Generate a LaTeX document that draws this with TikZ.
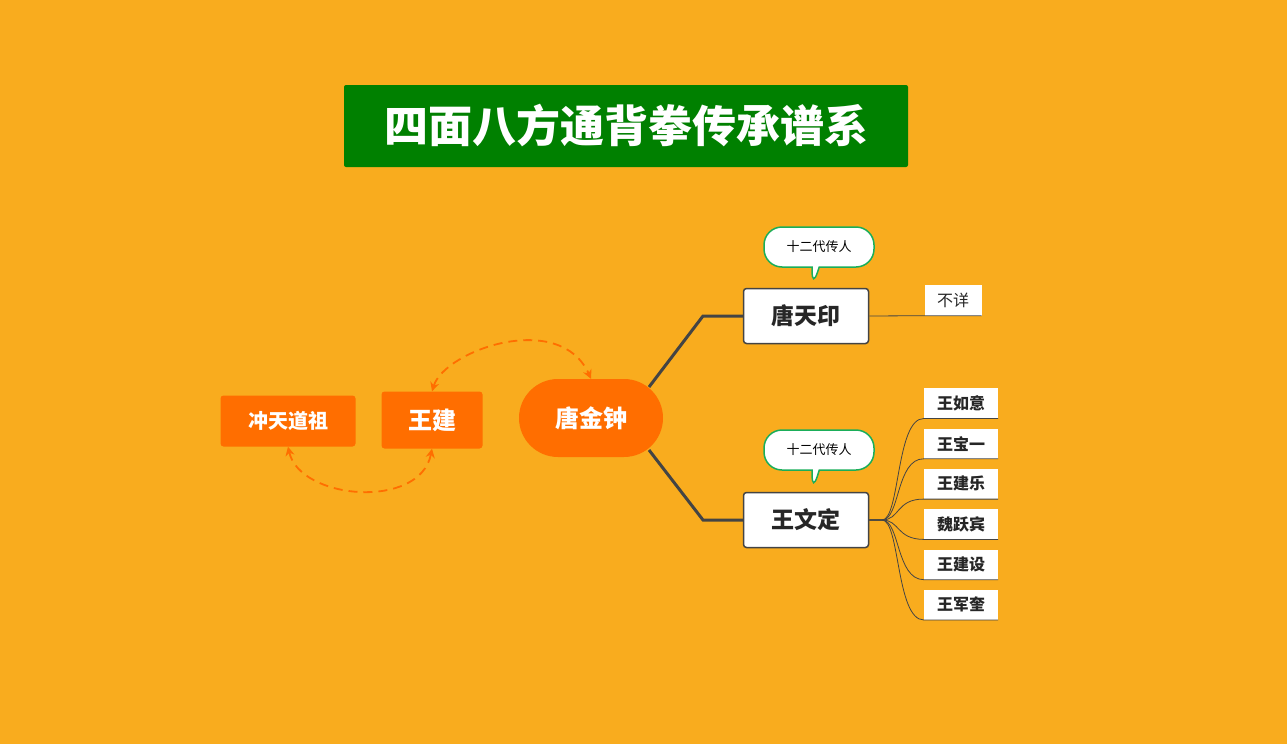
\documentclass[tikz,border=0pt]{standalone}
\usepackage{fontspec}
\setmainfont{Noto Sans CJK SC}
\usetikzlibrary{arrows.meta,shapes.callouts}
\definecolor{bgorange}{HTML}{F9AC1E}
\definecolor{nodeorange}{HTML}{FF6E00}
\definecolor{titlegreen}{HTML}{008000}
\definecolor{callgreen}{HTML}{1AAE5A}
\definecolor{linegray}{HTML}{444444}
\tikzset{
  orangebox/.style={fill=nodeorange, text=white, font=\bfseries, rounded corners=3pt, inner sep=0pt},
  personbox/.style={draw=linegray, line width=1.5pt, fill=white, rounded corners=3pt, minimum width=125pt, minimum height=55pt, font=\bfseries\fontsize{23}{25}\selectfont, text=black!85},
  childbox/.style={fill=white, minimum width=74pt, minimum height=30pt, inner sep=0pt, font=\bfseries\fontsize{16}{18}\selectfont, text=black!85},
  gencall/.style={rectangle callout, rounded corners=18pt, draw=callgreen, line width=1.5pt, fill=white, minimum width=110pt, minimum height=40pt, font=\fontsize{13}{15}\selectfont},
  trunk/.style={draw=linegray, line width=3pt},
  twig/.style={draw=linegray, line width=0.8pt},
  dasharrow/.style={draw=nodeorange, line width=1.8pt, dash pattern=on 9pt off 6pt, {Stealth[length=9pt,width=9pt]}-{Stealth[length=9pt,width=9pt]}}
}
\begin{document}
\begin{tikzpicture}[x=1pt,y=-1pt]
  \fill[bgorange] (0,0) rectangle (1287,744);
  \useasboundingbox (0,0) rectangle (1287,744);
  % title
  \node[fill=titlegreen, text=white, rounded corners=2pt, minimum width=564pt, minimum height=82pt, font=\bfseries\fontsize{44}{48}\selectfont] (title) at (626,126) {四面八方通背拳传承谱系};
  % left chain
  \node[orangebox, minimum width=135pt, minimum height=51pt, font=\bfseries\fontsize{20}{22}\selectfont] (zushi) at (288,421) {冲天道祖};
  \node[orangebox, minimum width=101pt, minimum height=57pt, font=\bfseries\fontsize{24}{26}\selectfont] (wangjian) at (432,420) {王建};
  \node[orangebox, rounded corners=39pt, minimum width=144pt, minimum height=78pt, font=\bfseries\fontsize{24}{26}\selectfont] (tangjz) at (591,418) {唐金钟};
  \draw[dasharrow] (wangjian.north) .. controls (445,350) and (560,310) .. (tangjz.north);
  \draw[dasharrow] (zushi.south) .. controls (300,500) and (420,510) .. (wangjian.south);
  % sons
  \node[personbox] (tangty) at (806,316) {唐天印};
  \node[personbox] (wangwd) at (806,520) {王文定};
  \coordinate (knee1) at (703,316);
  \coordinate (knee2) at (703,520);
  \draw[trunk] (649,387) -- (knee1) -- (tangty.west);
  \draw[trunk] (649,450) -- (knee2) -- (wangwd.west);
  \node[gencall, callout absolute pointer={(812,289)}] (gen1) at (819,247) {十二代传人};
  \node[gencall, callout absolute pointer={(812,493)}] (gen2) at (819,450) {十二代传人};
  % grandsons
  \node[fill=white, minimum width=57pt, minimum height=31pt, inner sep=0pt, font=\fontsize{16}{18}\selectfont, text=black!85] (buxiang) at (953,300) {不详};
  \draw[twig] (tangty.east) -- (buxiang.south west) -- (buxiang.south east);
  \coordinate (fork) at (882,520);
  \foreach \name [count=\i] in {王如意,王宝一,王建乐,魏跃宾,王建设,王军奎} {
    \node[childbox] (kid\i) at (961,363+40.3*\i) {\name};
    \draw[twig] (wangwd.east) -- (fork) .. controls (900,520) and (896,378+40.3*\i) .. (kid\i.south west) -- (kid\i.south east);
  }
\end{tikzpicture}
\end{document}
